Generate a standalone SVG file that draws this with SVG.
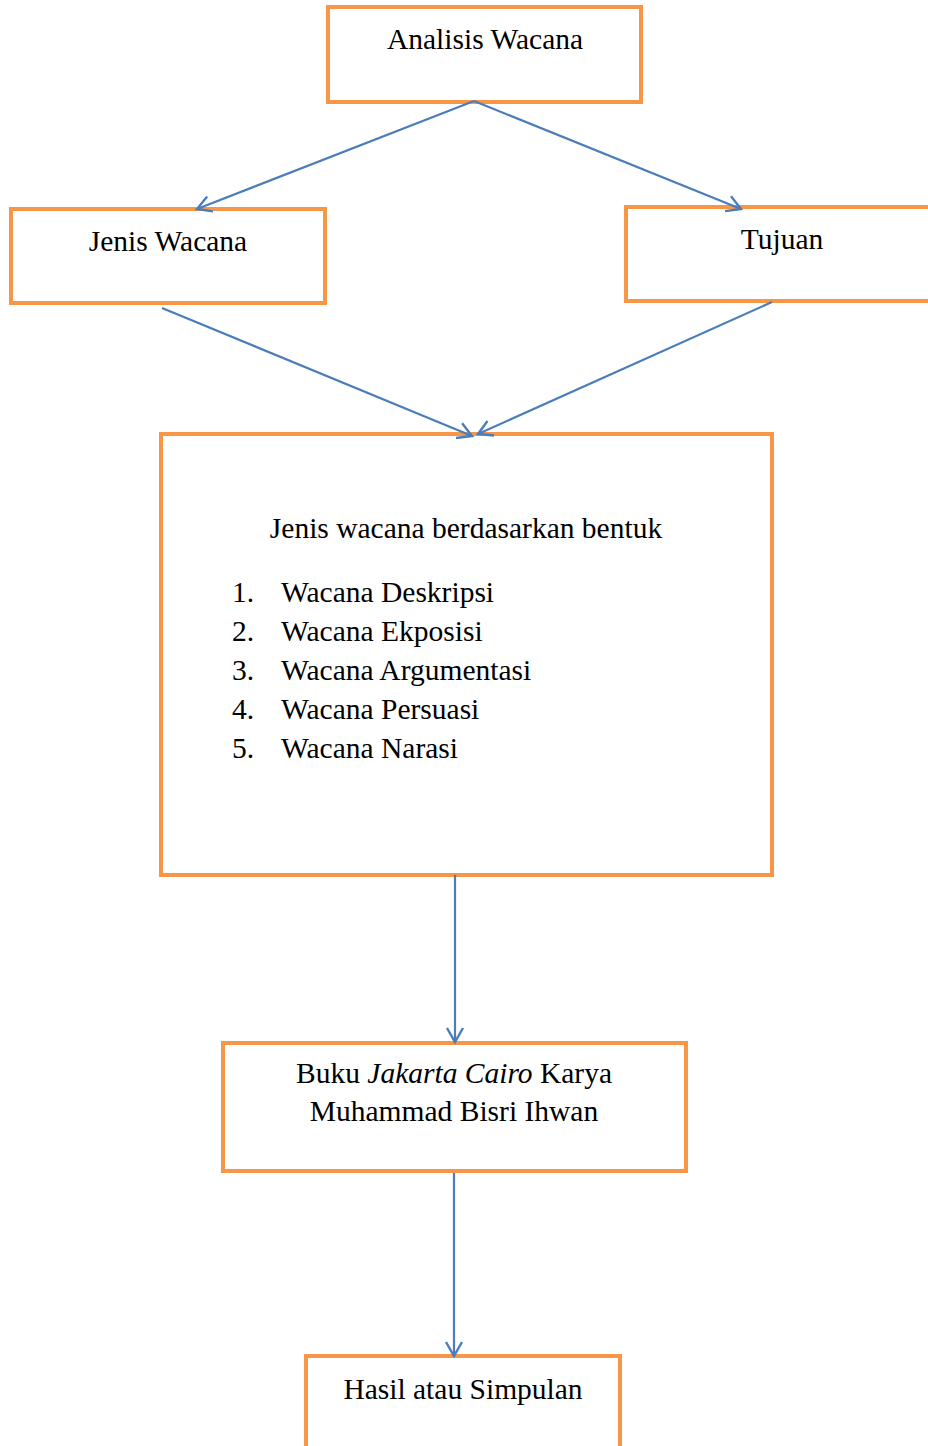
<svg xmlns="http://www.w3.org/2000/svg" width="928" height="1446" viewBox="0 0 928 1446">
<style>
.box{fill:#fff;stroke:#F79646;stroke-width:4}
.t{font-family:"Liberation Serif","Times New Roman",serif;font-size:29.5px;fill:#000}
.c{text-anchor:middle}
.conn{stroke:#4A7EBB;stroke-width:2.2;fill:none;marker-end:url(#arr)}
</style>
<defs>
<marker id="arr" markerUnits="userSpaceOnUse" markerWidth="24" markerHeight="24" refX="16" refY="9" orient="auto" overflow="visible">
<path d="M2,1 L16,9 L2,17" fill="none" stroke="#4A7EBB" stroke-width="2.4"/>
</marker>
</defs>
<rect width="928" height="1446" fill="#fff"/>
<g id="n1"><rect class="box" x="328" y="7" width="313" height="95"/><text class="t c" x="485" y="49">Analisis Wacana</text></g>
<g id="n2"><rect class="box" x="11" y="209" width="314" height="94"/><text class="t c" x="168" y="251">Jenis Wacana</text></g>
<g id="n3"><rect class="box" x="626" y="207" width="310" height="94"/><text class="t c" x="782" y="249">Tujuan</text></g>
<g id="n4"><rect class="box" x="161" y="434" width="611" height="441"/>
<text class="t c" x="466" y="538">Jenis wacana berdasarkan bentuk</text>
<text class="t" x="232" y="602">1.</text><text class="t" x="281" y="602">Wacana Deskripsi</text>
<text class="t" x="232" y="641">2.</text><text class="t" x="281" y="641">Wacana Ekposisi</text>
<text class="t" x="232" y="680">3.</text><text class="t" x="281" y="680">Wacana Argumentasi</text>
<text class="t" x="232" y="719">4.</text><text class="t" x="281" y="719">Wacana Persuasi</text>
<text class="t" x="232" y="758">5.</text><text class="t" x="281" y="758">Wacana Narasi</text>
</g>
<g id="n5"><rect class="box" x="223" y="1043" width="463" height="128"/>
<text class="t c" x="454" y="1083">Buku <tspan font-style="italic">Jakarta Cairo</tspan> Karya</text>
<text class="t c" x="454" y="1121">Muhammad Bisri Ihwan</text>
</g>
<g id="n6"><rect class="box" x="306" y="1356" width="314" height="110"/><text class="t c" x="463" y="1399">Hasil atau Simpulan</text></g>
<g id="connectors">
<line class="conn" x1="474" y1="101" x2="197" y2="209"/>
<line class="conn" x1="474" y1="101" x2="741" y2="209"/>
<line class="conn" x1="162" y1="308" x2="472" y2="436"/>
<line class="conn" x1="772" y1="302" x2="478" y2="434"/>
<line class="conn" x1="455" y1="875" x2="455" y2="1042"/>
<line class="conn" x1="454" y1="1173" x2="454" y2="1356"/>
</g>
</svg>
